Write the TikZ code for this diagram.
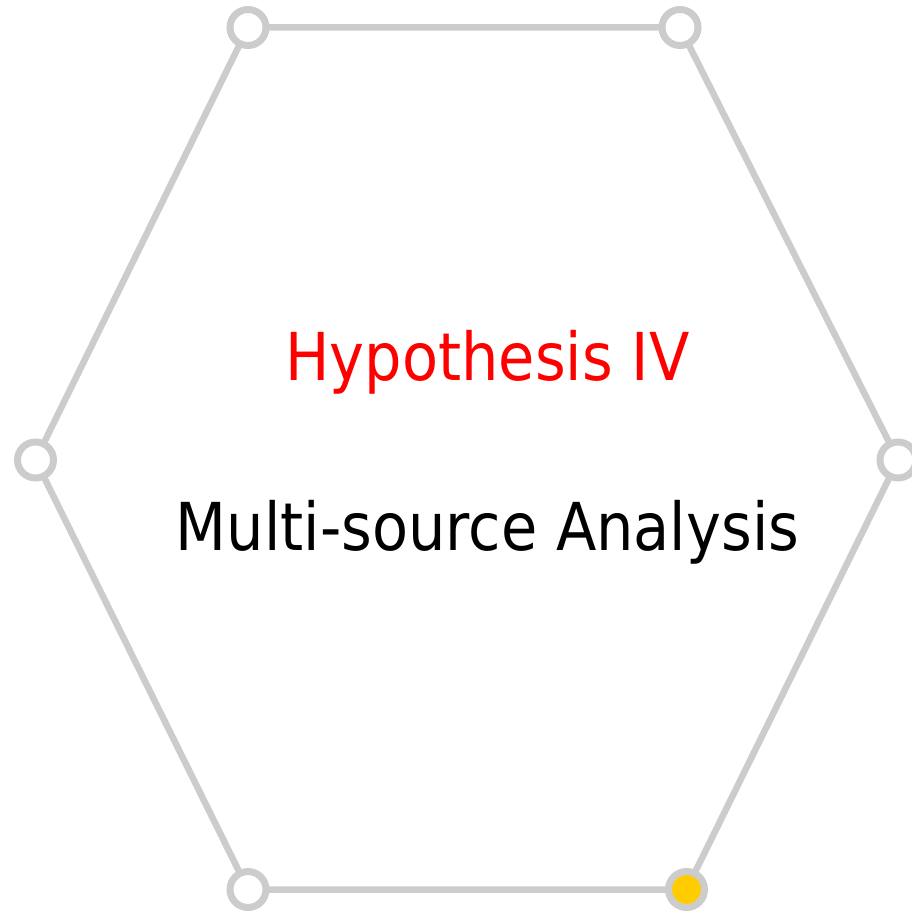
\documentclass[tikz,border=0pt]{standalone}
\usepackage{graphicx}
\usepackage{fontspec}
\setmainfont{DejaVu Sans}
\definecolor{edgegray}{HTML}{CCCCCC}
\definecolor{dotyellow}{HTML}{FFCC00}
\definecolor{hypred}{HTML}{FF0000}
\newcommand{\tallify}[1]{\scalebox{1}[1.12]{#1}}
\tikzset{
  edge/.style={draw=edgegray, line width=6.5pt},
  vtx/.style={circle, draw=edgegray, line width=7pt, fill=white, minimum size=36pt, inner sep=0pt},
  vtxon/.style={vtx, fill=dotyellow},
  title/.style={anchor=base, text=hypred, font=\fontsize{59}{64}\selectfont, inner sep=0pt},
  sub/.style={anchor=base, text=black, font=\fontsize{59}{64}\selectfont, inner sep=0pt}
}
\begin{document}
\begin{tikzpicture}[x=1pt,y=-1pt]
\useasboundingbox (0,0) rectangle (911,915);
\coordinate (p1) at (248,27.5);
\coordinate (p2) at (680,27.5);
\coordinate (p3) at (898,460);
\coordinate (p4) at (686.5,889.5);
\coordinate (p5) at (248,889.5);
\coordinate (p6) at (35.5,460);
\draw[edge] (p1) -- (p2) -- (p3) -- (p4) -- (p5) -- (p6) -- cycle;
\node[vtx] (v1) at (p1) {};
\node[vtx] (v2) at (p2) {};
\node[vtx] (v3) at (p3) {};
\node[vtxon] (v4) at (p4) {};
\node[vtx] (v5) at (p5) {};
\node[vtx] (v6) at (p6) {};
\node[title] (t1) at (487.5,380) {\tallify{Hypothesis IV}};
\node[sub] (t2) at (487.5,550) {\tallify{Multi-source Analysis}};
\end{tikzpicture}
\end{document}
